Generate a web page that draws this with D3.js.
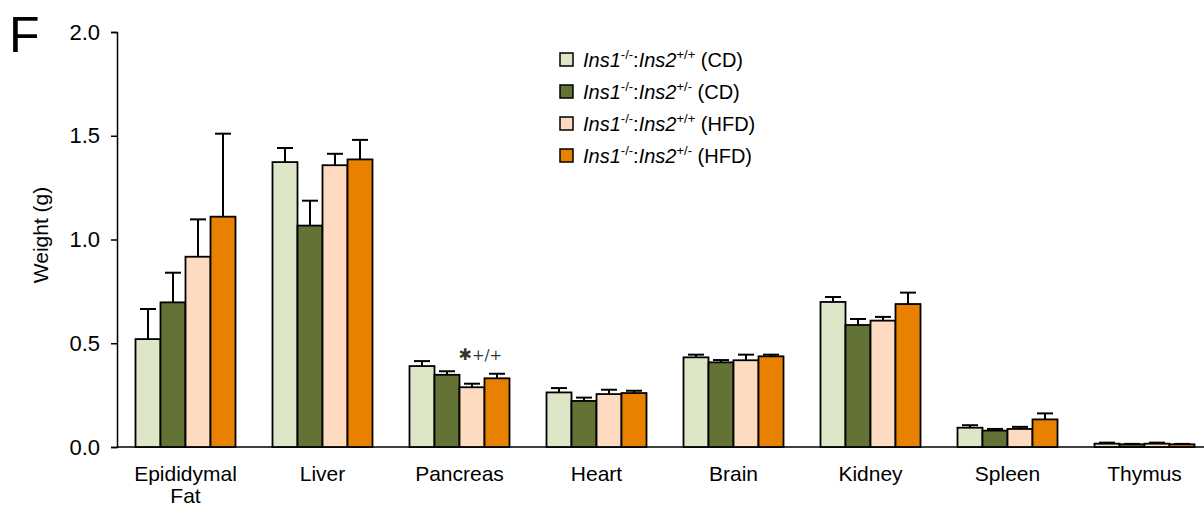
<!DOCTYPE html>
<html><head><meta charset="utf-8">
<script src="https://cdn.jsdelivr.net/npm/d3@7"></script>
<style>body{margin:0;background:#fff;} svg{display:block;font-family:"Liberation Sans",Arial,sans-serif;}</style>
</head><body>
<svg id="c" width="1204" height="507"></svg>
<script>
const categories = ["Epididymal Fat","Liver","Pancreas","Heart","Brain","Kidney","Spleen","Thymus"];
const seriesNames = ["+/+ (CD)","+/- (CD)","+/+ (HFD)","+/- (HFD)"];
const wtCD   = [0.52, 1.373, 0.390, 0.263, 0.432, 0.699, 0.093, 0.016];
const hetCD  = [0.697, 1.067, 0.348, 0.222, 0.408, 0.588, 0.079, 0.013];
const wtHFD  = [0.917, 1.358, 0.288, 0.255, 0.418, 0.609, 0.087, 0.016];
const hetHFD = [1.11, 1.386, 0.331, 0.260, 0.437, 0.689, 0.133, 0.013];
const errWtCD   = [0.145, 0.068, 0.024, 0.021, 0.013, 0.024, 0.012, 0.005];
const errHetCD  = [0.143, 0.12, 0.017, 0.016, 0.011, 0.029, 0.008, 0.002];
const errWtHFD  = [0.18, 0.055, 0.017, 0.021, 0.027, 0.018, 0.010, 0.005];
const errHetHFD = [0.40, 0.094, 0.022, 0.011, 0.008, 0.055, 0.029, 0.002];
const yTicks = [0, 0.5, 1.0, 1.5, 2.0];
const colors = ["#dee6c8","#627335","#fedbc0","#e88100"];
const legendGeno = [["+/+","(CD)"],["+/-","(CD)"],["+/+","(HFD)"],["+/-","(HFD)"]];

const values = [wtCD, hetCD, wtHFD, hetHFD];
const errors = [errWtCD, errHetCD, errWtHFD, errHetHFD];

const svg = d3.select("#c");
const x0 = 117, yBase = 447, yTop = 32;
const x = d3.scaleBand().domain(categories).range([x0, x0 + 8*137]).paddingInner(0.27).paddingOuter(0.135);
const xs = d3.scaleBand().domain(d3.range(4)).range([0, x.bandwidth()]);
const y = d3.scaleLinear().domain([0, 2]).range([yBase, yTop]);

// y axis
const yAxis = d3.axisLeft(y).tickValues(yTicks).tickFormat(d3.format(".1f")).tickSize(6).tickPadding(11);
const ga = svg.append("g").attr("transform", `translate(${x0},0)`).call(yAxis);
ga.select(".domain").attr("stroke","#000").attr("stroke-width",1.5);
ga.selectAll(".tick line").attr("stroke","#000").attr("stroke-width",1.5);
ga.selectAll(".tick text").attr("font-size",22).attr("fill","#000").attr("font-family","Liberation Sans, Arial, sans-serif");

// x axis baseline
svg.append("line").attr("x1", x0).attr("x2", 1204).attr("y1", yBase).attr("y2", yBase)
  .attr("stroke","#000").attr("stroke-width",1.5);

// bars
const groups = svg.selectAll("g.grp").data(categories).enter().append("g")
  .attr("class","grp").attr("transform", d => `translate(${x(d)},0)`);
for (let s = 0; s < 4; s++) {
  groups.each(function(c, i) {
    const g = d3.select(this);
    const v = values[s][i], e = errors[s][i];
    const cx = xs(s) + xs.bandwidth()/2;
    g.append("line").attr("x1", cx).attr("x2", cx).attr("y1", y(v)).attr("y2", y(v+e))
      .attr("stroke","#000").attr("stroke-width",2);
    g.append("line").attr("x1", cx-8).attr("x2", cx+8).attr("y1", y(v+e)).attr("y2", y(v+e))
      .attr("stroke","#000").attr("stroke-width",2);
    g.append("rect").attr("x", xs(s)).attr("width", xs.bandwidth())
      .attr("y", y(v)).attr("height", yBase - y(v))
      .attr("fill", colors[s]).attr("stroke","#000").attr("stroke-width",1.8);
  });
}

// category labels
categories.forEach(c => {
  const t = svg.append("text").attr("x", x(c) + x.bandwidth()/2).attr("y", 481)
    .attr("text-anchor","middle").attr("font-size",21).attr("fill","#000");
  if (c === "Epididymal Fat") {
    t.append("tspan").attr("x", x(c) + x.bandwidth()/2).text("Epididymal");
    t.append("tspan").attr("x", x(c) + x.bandwidth()/2).attr("dy", 22).text("Fat");
  } else t.text(c);
});

// y title
svg.append("text").attr("transform","translate(48,235) rotate(-90)").attr("text-anchor","middle")
  .attr("font-size",21).attr("fill","#000").text("Weight (g)");

// panel letter
svg.append("text").attr("x", 9).attr("y", 52).attr("font-size",50).attr("fill","#000").text("F");

// significance annotation on pancreas HFD +/+
{
  const i = 2, s = 2;
  const ax = x(categories[i]) + xs(s) - 1;
  const ay = y(values[s][i] + errors[s][i]) - 24;
  const t = svg.append("text").attr("x", ax).attr("y", ay).attr("fill","#333");
  t.append("tspan").attr("font-family","DejaVu Sans").attr("font-size",16).text("\u2731");
  t.append("tspan").attr("font-family","DejaVu Serif, serif").attr("font-size",15).text("+/+");
}

// legend
const lg = svg.append("g").attr("transform","translate(560,0)");
legendGeno.forEach((gz, k) => {
  const cy = 60 + k*32;
  lg.append("rect").attr("x", 0).attr("y", cy-7).attr("width",13).attr("height",13)
    .attr("fill", colors[k]).attr("stroke","#000").attr("stroke-width",1.5);
  const t = lg.append("text").attr("x", 23).attr("y", cy+7).attr("font-size",20).attr("fill","#000");
  t.append("tspan").attr("font-style","italic").text("Ins1");
  t.append("tspan").attr("font-size",13).attr("dy",-8).text("-/-");
  t.append("tspan").attr("dy",8).text(":");
  t.append("tspan").attr("font-style","italic").text("Ins2");
  t.append("tspan").attr("font-size",13).attr("dy",-8).text(gz[0]);
  t.append("tspan").attr("dy",8).text("\u00a0" + gz[1]);
});
</script>
</body></html>
